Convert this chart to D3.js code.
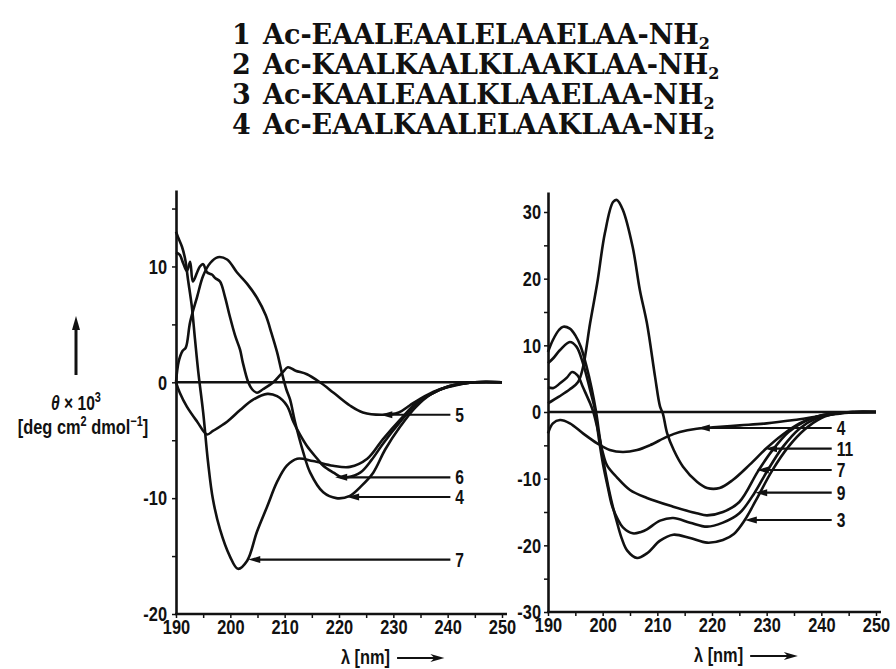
<!DOCTYPE html>
<html>
<head>
<meta charset="utf-8">
<script src="https://cdn.jsdelivr.net/npm/d3@7"></script>
<style>
  body { margin: 0; background: #fff; }
  text { fill: #111; }
</style>
</head>
<body>
<div id="chart"></div>
<script>
// peptide sequences shown on top
const peptideIds = ["1", "2", "3", "4"]
const peptideSeqs = [
    "Ac-EAALEAALELAAELAA-NH",
    "Ac-KAALKAALKLAAKLAA-NH",
    "Ac-KAALEAALKLAAELAA-NH",
    "Ac-EAALKAALELAAKLAA-NH"
]

// axes
const xTicks = [190, 200, 210, 220, 230, 240, 250]
const leftYTicks = [-20, -10, 0, 10]
const rightYTicks = [-30, -20, -10, 0, 10, 20, 30]

// left panel curves [nm, theta x 10^3]
const left4 = [[190, 0], [190.5, 1.8], [191.2, 2.7], [191.8, 3], [192.6, 5.2], [193.9, 7.4], [195, 9.2], [196.3, 10.3], [197.7, 10.8],
    [199.4, 10.6], [201.2, 9.5], [203.1, 8.5], [204.9, 7.3], [206.5, 5.8], [207.6, 4.2], [208.6, 2.6], [209.5, 0.8], [210.3, -0.6],
    [211, -1.5], [211.9, -3.4], [213.4, -6], [214.7, -7.8], [217.1, -9.5], [219.5, -10], [222, -9.8], [224, -9], [226.3, -7.8],
    [228.5, -5.8], [231.3, -3.8], [234, -2.2], [237, -1], [240, -0.4], [245, 0], [250, 0]]
const left5 = [[190, 11.2], [190.7, 11], [191.3, 10.3], [192, 9.6], [192.6, 10.4], [193.1, 8.7], [193.9, 9.5], [194.4, 10], [195, 10.2],
    [195.7, 9.5], [196.6, 9.3], [197.2, 9], [198.1, 8.7], [199, 7.4], [199.9, 5.7], [200.9, 4], [201.8, 2.8], [202.3, 1.7], [203.3, 0],
    [204, -0.6], [204.9, -0.9], [206, -0.6], [207.9, 0], [209.7, 0.9], [210.6, 1.3], [212, 1], [214.1, 0.7], [216.5, 0], [219, -0.9],
    [222, -2], [224.4, -2.6], [228, -2.8], [231, -2.6], [233, -2], [235, -1.4], [238, -0.7], [242, -0.2], [245, 0], [250, 0]]
const left6 = [[190, 0], [190.7, -0.9], [192, -2.1], [193.9, -3.4], [195.7, -4.5], [196.8, -4.2], [199.4, -3.4], [201.8, -2.4],
    [204.2, -1.5], [206.8, -1], [208.6, -1.2], [210.4, -2], [211.6, -3.4], [212.8, -4.5], [214.1, -5.5], [216, -6.6], [217.1, -7.2],
    [219, -7.8], [220.5, -8.2], [221.5, -8.2], [223.9, -7.8], [226, -6.7], [228.1, -5.3], [231.3, -3.4], [234.4, -1.8], [237.4, -0.9],
    [240.5, -0.3], [245, 0], [250, 0]]
const left7 = [[190, 13], [190.4, 12.5], [191.1, 11.7], [191.7, 10.6], [192.2, 8.9], [192.9, 6.6], [193.5, 3.7], [194.1, 0.9],
    [195, -2.6], [195.9, -6.9], [196.8, -10.1], [198.1, -12.7], [199.9, -15], [201.4, -16.1], [203.1, -15.4], [204.9, -12.9],
    [206.8, -10.7], [208.6, -8.6], [210.4, -7.2], [212.3, -6.6], [215.2, -6.8], [218.9, -7.2], [222, -7.3], [225.2, -6.6],
    [228.1, -4.9], [231.3, -3.2], [234.4, -1.7], [237.4, -0.9], [240.5, -0.3], [245, 0], [250, 0]]

// right panel curves
const right3 = [[190, 9], [190.9, 10.8], [192, 12.3], [192.8, 12.8], [194, 12.5], [195, 11.5], [196, 9.8], [197, 7], [198, 3.5],
    [198.8, 0], [199.5, -4], [200.5, -9], [201.5, -13], [202.6, -16.5], [203.5, -19], [204.5, -20.8], [206.3, -21.9], [208.1, -21.2],
    [210.5, -19.3], [212.9, -18.4], [216, -18.9], [219.1, -19.6], [222, -19.2], [224, -18.3], [226, -16.2], [228, -13.3], [231, -8.8],
    [234, -5.2], [237, -2.6], [240, -0.9], [243, -0.2], [246, 0], [250, 0]]
const right4 = [[190, -3.2], [190.9, -1.7], [192.2, -1.2], [194, -1.7], [196.4, -3.2], [199, -4.7], [201.3, -5.7], [203.7, -6],
    [206.3, -5.7], [208.6, -5], [211.8, -3.7], [214.1, -3], [217.2, -2.5], [220.2, -2.3], [225.1, -2], [230, -1.7], [235, -1.2],
    [240, -0.6], [245, -0.1], [250, 0]]
const right7 = [[190, 3.7], [191, 3.6], [192.2, 4.3], [193.5, 5.2], [194.4, 6], [195.4, 5.5], [196.4, 3.7], [197.7, 1.3], [198.3, 0],
    [199.2, -3], [200, -6], [200.8, -8], [202.6, -9.8], [205, -11.7], [208.1, -12.9], [212.9, -14.2], [217.2, -15.2], [219.1, -15.5],
    [222, -15], [225, -13.5], [228.4, -8.9], [231, -5.8], [234, -3], [237, -1.4], [240, -0.5], [244, -0.1], [250, 0]]
const right9 = [[190, 7.3], [191, 8.1], [192.2, 9.3], [194, 10.5], [195.2, 9.8], [196.4, 7.3], [197.7, 3.3], [198.6, 0.3], [199.3, -4],
    [200.1, -8], [201, -11.5], [201.7, -14], [202.7, -16], [203.7, -17.3], [205.5, -18.2], [207, -18], [208.1, -17.6], [210.5, -16.3],
    [212.9, -15.9], [216, -16.6], [219.1, -17.2], [222, -16.6], [225, -15.2], [227.8, -12.1], [230, -9], [233, -5.2], [236, -2.5],
    [239, -1], [243, -0.2], [246, 0], [250, 0]]
const right11 = [[190, 1.3], [192, 2.3], [194, 3.4], [195.5, 4.5], [196.4, 6.7], [197.7, 13.3], [199, 19.3], [200.4, 26.8],
    [201.9, 31.5], [202.6, 31.8], [203.7, 30.3], [205.5, 24.7], [206.8, 18.3], [208.1, 13.3], [209.6, 5.2], [210.5, 0.8], [211, -0.2],
    [211.8, -3.2], [213, -5.7], [214.7, -8.2], [217.3, -10.5], [219.1, -11.4], [221.4, -11.4], [223.8, -10.2], [226.9, -7.9],
    [230, -5.4], [232.9, -3.4], [236, -1.7], [239.1, -0.7], [242, -0.2], [246, 0], [250, 0]]

// curve labels with the point the arrow touches
const leftLabels = ["5", "6", "4", "7"]
const leftTips = [[227.6, -2.8], [219.3, -8.2], [221.5, -9.9], [203.3, -15.3]]
const rightLabels = ["4", "11", "7", "9", "3"]
const rightTips = [[217.4, -2.4], [229.7, -5.5], [228.2, -8.7], [227.9, -12.1], [226, -16.2]]

const width = 896, height = 669
const numFont = "'Liberation Sans',Arimo,sans-serif"
const squeeze = 0.78   // the print uses a narrow grotesque

const svg = d3.select("#chart")
    .append("svg")
    .attr("width", width)
    .attr("height", height)

svg.append("rect").attr("width", width).attr("height", height).attr("fill", "#fff")

// narrow a text horizontally while keeping its anchor point
function narrow(sel) {
    sel.each(function () {
        const t = d3.select(this)
        const x = +t.attr("x") || 0
        t.attr("x", x / squeeze).attr("transform", "scale(" + squeeze + ",1)")
    })
}

// ------------------------------- //
// Title block
// ------------------------------- //
peptideSeqs.forEach(function (s, i) {
    const yb = 43.5 + i * 30
    svg.append("text")
        .attr("x", 232).attr("y", yb)
        .attr("font-family", "'DejaVu Serif',serif")
        .attr("font-weight", "bold")
        .attr("font-size", 27)
        .text(peptideIds[i])
    const t = svg.append("text")
        .attr("x", 263).attr("y", yb)
        .attr("font-family", "'DejaVu Serif',serif")
        .attr("font-weight", "bold")
        .attr("font-size", 27)
    t.append("tspan").text(s)
    t.append("tspan").attr("dy", 5).attr("font-size", 16).text("2")
})

// ------------------------------- //
// one CD panel
// ------------------------------- //
function drawPanel(x, y, yTicks, series, labels, tips, labelNm, lambdaEnd, padY) {
    const g = svg.append("g")
    const yMinor = d3.range(yTicks[0], y.domain()[1], 5)
    const xMinor = d3.range(190, 251, 5)

    g.append("g")
        .attr("transform", "translate(" + x(190) + ",0)")
        .call(d3.axisLeft(y).tickValues(yMinor).tickSize(4).tickSizeOuter(0).tickPadding(padY)
            .tickFormat(d => yTicks.includes(d) ? String(d) : ""))
    const xAx = g.append("g")
        .attr("transform", "translate(0," + y.range()[0] + ")")
        .call(d3.axisBottom(x).tickValues(xMinor).tickSize(4).tickSizeOuter(0).tickPadding(1)
            .tickFormat(d => xTicks.includes(d) ? String(d) : ""))
    xAx.select(".domain").remove()

    g.selectAll(".domain").attr("stroke", "#111").attr("stroke-width", 2.6)
    g.selectAll(".tick line").attr("stroke", "#111").attr("stroke-width", 1.5)
    g.selectAll(".tick text")
        .attr("font-family", numFont)
        .attr("font-weight", "bold")
        .attr("font-size", 21)
        .attr("fill", "#111")
        .call(narrow)

    // bottom axis line, a bit longer than the data range
    g.append("line")
        .attr("x1", x(190) - 1).attr("x2", x(250) + 5)
        .attr("y1", y.range()[0]).attr("y2", y.range()[0])
        .attr("stroke", "#111").attr("stroke-width", 2.6)

    // zero line
    g.append("line")
        .attr("x1", x(190)).attr("x2", x(250))
        .attr("y1", y(0)).attr("y2", y(0))
        .attr("stroke", "#111").attr("stroke-width", 2.4)

    const line = d3.line()
        .x(d => x(d[0]))
        .y(d => y(d[1]))
        .curve(d3.curveCatmullRom.alpha(0.5))

    g.selectAll("path.curve")
        .data(series)
        .enter()
        .append("path")
        .attr("class", "curve")
        .attr("d", line)
        .attr("fill", "none")
        .attr("stroke", "#111")
        .attr("stroke-width", 2.6)
        .attr("stroke-linejoin", "round")

    // arrows to the curves
    labels.forEach(function (lab, i) {
        const px = x(tips[i][0]), py = y(tips[i][1])
        const lx = x(labelNm)
        g.append("line")
            .attr("x1", px + 8).attr("x2", lx).attr("y1", py).attr("y2", py)
            .attr("stroke", "#111").attr("stroke-width", 2.2)
        g.append("path")
            .attr("d", "M" + px + "," + py + "L" + (px + 12) + "," + (py - 3.5) + "L" + (px + 12) + "," + (py + 3.5) + "Z")
            .attr("fill", "#111")
        g.append("text")
            .attr("x", lx + 5).attr("y", py + 7)
            .attr("font-family", numFont)
            .attr("font-weight", "bold")
            .attr("font-size", 20)
            .text(lab)
            .call(narrow)
    })

    // lambda label with arrow
    const ly = y.range()[0] + 50
    g.append("text")
        .attr("x", x(lambdaEnd)).attr("y", ly)
        .attr("text-anchor", "end")
        .attr("font-family", numFont)
        .attr("font-weight", "bold")
        .attr("font-size", 21)
        .text("λ [nm]")
        .call(narrow)
    const a0 = x(lambdaEnd) + 7, a1 = x(lambdaEnd + 10)
    g.append("line")
        .attr("x1", a0).attr("x2", a1 - 6).attr("y1", ly - 6).attr("y2", ly - 6)
        .attr("stroke", "#111").attr("stroke-width", 2)
    g.append("path")
        .attr("d", "M" + a1 + "," + (ly - 6) + "L" + (a1 - 14) + "," + (ly - 10) + "L" + (a1 - 10) + "," + (ly - 6) + "L" + (a1 - 14) + "," + (ly - 2) + "Z")
        .attr("fill", "#111")
}

const xL = d3.scaleLinear().domain([190, 250]).range([176, 502])
const yL = d3.scaleLinear().domain([-20, 16.6]).range([614, 190])
const xR = d3.scaleLinear().domain([190, 250]).range([548, 876])
const yR = d3.scaleLinear().domain([-30, 33]).range([612, 192])

drawPanel(xL, yL, leftYTicks, [left4, left5, left6, left7], leftLabels, leftTips, 240.5, 229.4, 5)
drawPanel(xR, yR, rightYTicks, [right3, right4, right7, right9, right11], rightLabels, rightTips, 241.9, 225.7, 3)

// ------------------------------- //
// y axis title of the left panel
// ------------------------------- //
svg.append("line")
    .attr("x1", 76).attr("x2", 76).attr("y1", 375).attr("y2", 326)
    .attr("stroke", "#111").attr("stroke-width", 3)
svg.append("path")
    .attr("d", "M76,316L72,330L80,330Z")
    .attr("fill", "#111")

const t1 = svg.append("text")
    .attr("x", 76).attr("y", 410)
    .attr("text-anchor", "middle")
    .attr("font-family", numFont)
    .attr("font-weight", "bold")
    .attr("font-size", 20)
t1.append("tspan").attr("font-style", "italic").text("θ")
t1.append("tspan").text(" × 10")
t1.append("tspan").attr("dy", -8).attr("font-size", 14).text("3")
t1.call(narrow)

const t2 = svg.append("text")
    .attr("x", 83).attr("y", 434)
    .attr("text-anchor", "middle")
    .attr("font-family", numFont)
    .attr("font-weight", "bold")
    .attr("font-size", 21)
t2.append("tspan").text("[deg cm")
t2.append("tspan").attr("dy", -8).attr("font-size", 14).text("2")
t2.append("tspan").attr("dy", 8).text(" dmol")
t2.append("tspan").attr("dy", -8).attr("font-size", 14).text("−1")
t2.append("tspan").attr("dy", 8).text("]")
t2.call(narrow)
</script>
</body>
</html>
